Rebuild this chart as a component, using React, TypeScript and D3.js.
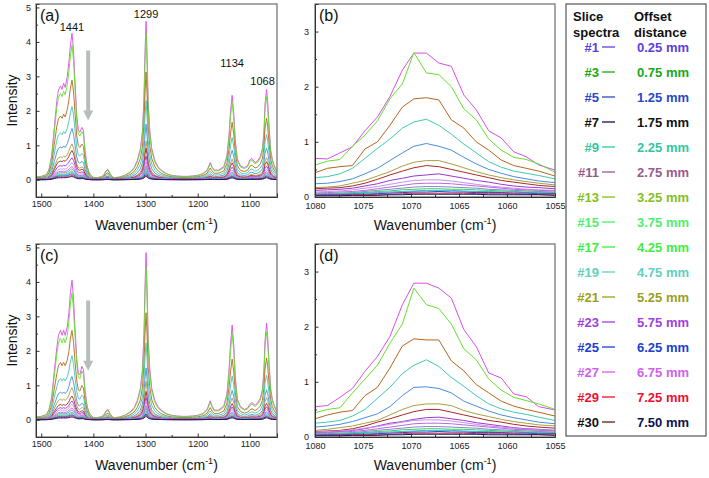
import React, { useRef, useEffect } from 'react';
import * as d3 from 'd3';

// top spectrum of panel (a), [wavenumber, intensity]
const topSpectrumA: [number, number][] = [
  [1510, 0.08], [1500, 0.1], [1490, 0.15], [1485, 0.3], [1480, 0.7], [1475, 1.5], [1470, 2.3],
  [1467, 2.6], [1463, 2.72], [1460, 2.62], [1457, 2.8], [1454, 2.68], [1450, 3.0], [1447, 3.4],
  [1444, 3.9], [1441, 4.25], [1438, 3.75], [1435, 2.8], [1432, 1.9], [1429, 1.45], [1426, 1.38],
  [1422, 1.52], [1419, 1.42], [1416, 0.85], [1412, 0.4], [1408, 0.2], [1404, 0.12], [1400, 0.07],
  [1395, 0.06], [1390, 0.07], [1385, 0.09], [1380, 0.14], [1376, 0.26], [1372, 0.3], [1368, 0.18],
  [1364, 0.09], [1360, 0.06], [1350, 0.08], [1340, 0.13], [1330, 0.22], [1322, 0.35], [1316, 0.55],
  [1310, 0.9], [1306, 1.4], [1303, 2.4], [1301, 3.7], [1299, 4.6], [1297, 3.6], [1295, 2.3],
  [1292, 1.45], [1288, 0.9], [1282, 0.55], [1276, 0.38], [1270, 0.28], [1260, 0.18], [1250, 0.13],
  [1240, 0.11], [1230, 0.1], [1220, 0.1], [1210, 0.11], [1200, 0.13], [1190, 0.18], [1182, 0.28],
  [1176, 0.5], [1172, 0.36], [1168, 0.28], [1160, 0.28], [1150, 0.38], [1144, 0.7], [1140, 1.3],
  [1137, 2.0], [1134, 2.45], [1131, 1.95], [1128, 1.15], [1124, 0.6], [1118, 0.4], [1110, 0.35],
  [1104, 0.42], [1100, 0.58], [1096, 0.62], [1090, 0.5], [1085, 0.55], [1080, 0.68], [1076, 0.9],
  [1073, 1.4], [1071, 2.2], [1068, 2.62], [1066, 2.3], [1063, 1.5], [1060, 0.85], [1057, 0.6],
  [1054, 0.45], [1050, 0.3], [1048, 0.25],
];

// top spectrum of panel (c)
const topSpectrumC: [number, number][] = [
  [1510, 0.08], [1500, 0.1], [1490, 0.15], [1485, 0.3], [1480, 0.65], [1475, 1.4], [1470, 2.1],
  [1467, 2.45], [1463, 2.6], [1460, 2.45], [1457, 2.6], [1454, 2.45], [1450, 2.7], [1447, 3.1],
  [1444, 3.7], [1441, 4.05], [1438, 3.5], [1435, 2.6], [1432, 1.8], [1429, 1.35], [1426, 1.3],
  [1422, 1.55], [1419, 1.45], [1416, 0.85], [1412, 0.4], [1408, 0.2], [1404, 0.12], [1400, 0.07],
  [1395, 0.06], [1390, 0.07], [1385, 0.09], [1380, 0.14], [1376, 0.25], [1372, 0.3], [1368, 0.18],
  [1364, 0.09], [1360, 0.06], [1350, 0.08], [1340, 0.13], [1330, 0.22], [1322, 0.35], [1316, 0.55],
  [1310, 0.9], [1306, 1.45], [1303, 2.5], [1301, 3.9], [1299, 4.85], [1297, 3.8], [1295, 2.4],
  [1292, 1.5], [1288, 0.9], [1282, 0.55], [1276, 0.38], [1270, 0.28], [1260, 0.18], [1250, 0.13],
  [1240, 0.11], [1230, 0.1], [1220, 0.1], [1210, 0.11], [1200, 0.13], [1190, 0.18], [1182, 0.3],
  [1176, 0.55], [1172, 0.38], [1168, 0.28], [1160, 0.28], [1150, 0.4], [1144, 0.75], [1140, 1.45],
  [1137, 2.2], [1134, 2.75], [1131, 2.2], [1128, 1.25], [1124, 0.6], [1118, 0.38], [1110, 0.3],
  [1104, 0.35], [1100, 0.45], [1096, 0.5], [1090, 0.42], [1085, 0.5], [1080, 0.62], [1076, 0.88],
  [1073, 1.45], [1071, 2.3], [1068, 2.8], [1066, 2.45], [1063, 1.6], [1060, 0.9], [1057, 0.6],
  [1054, 0.45], [1050, 0.3], [1048, 0.25],
];

// each spectrum's level relative to the top one (read at the 1441 / 1299 peaks)
const levelsA = [1, 0.92, 0.68, 0.5, 0.35, 0.245, 0.2, 0.15, 0.115, 0.09, 0.075, 0.06, 0.05, 0.04, 0.03, 0.022];
const levelsC = [1, 0.91, 0.64, 0.46, 0.31, 0.23, 0.17, 0.135, 0.11, 0.085, 0.07, 0.055, 0.045, 0.035, 0.028, 0.02];

const spectraColors = [
  '#d84ee8', '#66e030', '#b5661e', '#40c8b0', '#4a8ce0', '#a8a040', '#a82828', '#9838d0',
  '#c890e8', '#b868e0', '#8888cc', '#40d060', '#30b8d0', '#2840c0', '#e82850', '#101060',
];

// zoomed region 1080-1055 cm-1
const zoomWn = [1080, 1078.7, 1077.4, 1076.1, 1074.8, 1073.5, 1072.2, 1070.9, 1069.7, 1068.4,
  1067.1, 1065.8, 1064.5, 1063.2, 1061.9, 1060.6, 1059.3, 1058.0, 1056.7, 1055.0];

const zoomB = [
  [0.7, 0.69, 0.8, 0.91, 1.2, 1.45, 1.82, 2.3, 2.61, 2.61, 2.43, 2.37, 1.85, 1.58, 1.2, 1.07, 0.82, 0.73, 0.58, 0.49],
  [0.58, 0.65, 0.68, 0.92, 1.12, 1.38, 1.78, 2.05, 2.62, 2.25, 2.22, 2.0, 1.6, 1.4, 1.05, 0.85, 0.72, 0.68, 0.6, 0.45],
  [0.44, 0.52, 0.55, 0.57, 0.87, 1.0, 1.3, 1.63, 1.78, 1.8, 1.76, 1.4, 1.25, 1.0, 0.85, 0.67, 0.57, 0.52, 0.47, 0.38],
  [0.35, 0.37, 0.42, 0.52, 0.7, 0.88, 1.05, 1.25, 1.36, 1.41, 1.3, 1.14, 0.96, 0.8, 0.64, 0.54, 0.47, 0.43, 0.39, 0.33],
  [0.24, 0.25, 0.28, 0.33, 0.42, 0.52, 0.66, 0.8, 0.92, 0.97, 0.92, 0.85, 0.72, 0.6, 0.5, 0.43, 0.37, 0.33, 0.29, 0.26],
  [0.17, 0.18, 0.2, 0.25, 0.3, 0.38, 0.46, 0.56, 0.63, 0.66, 0.66, 0.6, 0.53, 0.46, 0.4, 0.35, 0.31, 0.28, 0.25, 0.22],
  [0.15, 0.16, 0.17, 0.2, 0.25, 0.32, 0.4, 0.47, 0.53, 0.57, 0.55, 0.5, 0.45, 0.4, 0.35, 0.3, 0.27, 0.24, 0.21, 0.19],
  [0.12, 0.13, 0.14, 0.16, 0.2, 0.24, 0.3, 0.34, 0.38, 0.4, 0.42, 0.38, 0.34, 0.3, 0.27, 0.23, 0.2, 0.18, 0.17, 0.15],
];

const zoomD = [
  [0.55, 0.57, 0.72, 0.88, 1.19, 1.46, 1.82, 2.4, 2.79, 2.79, 2.7, 2.52, 1.95, 1.64, 1.16, 1.07, 0.78, 0.73, 0.55, 0.49],
  [0.44, 0.5, 0.53, 0.8, 1.05, 1.3, 1.7, 2.05, 2.7, 2.4, 2.33, 2.05, 1.6, 1.4, 1.05, 0.85, 0.72, 0.66, 0.6, 0.5],
  [0.33, 0.4, 0.45, 0.48, 0.75, 0.9, 1.25, 1.65, 1.78, 1.76, 1.76, 1.38, 1.2, 0.95, 0.8, 0.65, 0.56, 0.5, 0.45, 0.38],
  [0.25, 0.27, 0.3, 0.38, 0.5, 0.7, 0.9, 1.15, 1.3, 1.4, 1.28, 1.08, 0.92, 0.75, 0.6, 0.51, 0.45, 0.41, 0.36, 0.3],
  [0.18, 0.2, 0.23, 0.28, 0.35, 0.42, 0.55, 0.75, 0.9, 0.91, 0.88, 0.8, 0.65, 0.56, 0.47, 0.4, 0.35, 0.31, 0.27, 0.24],
  [0.12, 0.14, 0.17, 0.2, 0.25, 0.3, 0.4, 0.5, 0.57, 0.6, 0.6, 0.57, 0.48, 0.42, 0.37, 0.32, 0.28, 0.25, 0.22, 0.2],
  [0.1, 0.11, 0.12, 0.15, 0.2, 0.27, 0.33, 0.4, 0.46, 0.5, 0.5, 0.45, 0.4, 0.35, 0.3, 0.27, 0.23, 0.2, 0.18, 0.16],
  [0.08, 0.09, 0.1, 0.12, 0.15, 0.2, 0.25, 0.28, 0.32, 0.35, 0.36, 0.33, 0.3, 0.26, 0.23, 0.2, 0.17, 0.15, 0.14, 0.12],
];

// weak spectra near the baseline (both zoomed panels)
const zoomLow = [
  [0.09, 0.1, 0.11, 0.13, 0.16, 0.19, 0.23, 0.27, 0.3, 0.31, 0.31, 0.29, 0.26, 0.23, 0.2, 0.18, 0.16, 0.14, 0.13, 0.12],
  [0.07, 0.08, 0.09, 0.1, 0.12, 0.15, 0.18, 0.21, 0.24, 0.25, 0.25, 0.24, 0.22, 0.2, 0.18, 0.16, 0.14, 0.13, 0.12, 0.11],
  [0.06, 0.06, 0.07, 0.08, 0.1, 0.12, 0.14, 0.16, 0.18, 0.19, 0.19, 0.18, 0.17, 0.16, 0.14, 0.13, 0.12, 0.11, 0.1, 0.09],
  [0.05, 0.05, 0.06, 0.07, 0.08, 0.1, 0.11, 0.13, 0.14, 0.15, 0.15, 0.14, 0.14, 0.13, 0.12, 0.11, 0.1, 0.09, 0.09, 0.08],
  [0.04, 0.05, 0.05, 0.06, 0.07, 0.08, 0.09, 0.1, 0.11, 0.12, 0.12, 0.12, 0.11, 0.1, 0.1, 0.09, 0.09, 0.08, 0.08, 0.07],
  [0.03, 0.04, 0.04, 0.05, 0.05, 0.06, 0.07, 0.08, 0.09, 0.09, 0.1, 0.09, 0.09, 0.08, 0.08, 0.08, 0.07, 0.07, 0.06, 0.06],
  [0.03, 0.03, 0.03, 0.04, 0.04, 0.05, 0.05, 0.06, 0.07, 0.07, 0.07, 0.07, 0.07, 0.06, 0.06, 0.06, 0.06, 0.05, 0.05, 0.05],
  [0.02, 0.02, 0.02, 0.03, 0.03, 0.03, 0.04, 0.04, 0.05, 0.05, 0.05, 0.05, 0.05, 0.05, 0.04, 0.04, 0.04, 0.04, 0.04, 0.03],
];

const peakLabels = [
  { wn: 1441, v: 4.33 },
  { wn: 1299, v: 4.68 },
  { wn: 1134, v: 3.28 },
  { wn: 1068, v: 2.76 },
];

const legendSlices = ['#1', '#3', '#5', '#7', '#9', '#11', '#13', '#15', '#17', '#19', '#21', '#23', '#25', '#27', '#29', '#30'];
const legendOffsets = ['0.25 mm', '0.75 mm', '1.25 mm', '1.75 mm', '2.25 mm', '2.75 mm', '3.25 mm', '3.75 mm',
  '4.25 mm', '4.75 mm', '5.25 mm', '5.75 mm', '6.25 mm', '6.75 mm', '7.25 mm', '7.50 mm'];
const legendColors = ['#5a40dc', '#18a818', '#2848c8', '#111111', '#30c8a0', '#9a5a90', '#84c020', '#50ee70',
  '#40ee40', '#60d0c0', '#98a020', '#a040e0', '#2040d0', '#d060f0', '#ee1030', '#111111'];
const legendDashColors = ['#5a40dc', '#18a818', '#2848c8', '#141450', '#30c8a0', '#9a5a90', '#84c020', '#50ee70',
  '#40ee40', '#60d0c0', '#98a020', '#a040e0', '#2040d0', '#d060f0', '#ee1030', '#5a2010'];
const legendValueColors = ['#5a40dc', '#18a818', '#2848c8', '#111111', '#30c8a0', '#9a5a90', '#84c020', '#50ee70',
  '#40ee40', '#60d0c0', '#98a020', '#a040e0', '#2040d0', '#d060f0', '#ee1030', '#101050'];

const FONT = 'Arial, "Liberation Sans", sans-serif';

type Series = { values: [number, number][]; color: string };

const drawPanel = (svg: any, p: any) => {
  const x = d3.scaleLinear().domain(p.xDomain).range([p.left, p.right]);
  const y = d3.scaleLinear().domain(p.yDomain).range([p.bottom, p.top]);
  const g = svg.append('g');

  svg.append('clipPath').attr('id', 'clip-' + p.name)
    .append('rect')
    .attr('x', p.left).attr('y', p.top)
    .attr('width', p.right - p.left).attr('height', p.bottom - p.top);

  const line = d3.line<[number, number]>().x((d) => x(d[0])).y((d) => y(d[1]));

  g.append('g')
    .attr('clip-path', `url(#clip-${p.name})`)
    .selectAll('path')
    .data(p.series as Series[])
    .join('path')
    .attr('d', (d: Series) => line(d.values))
    .attr('fill', 'none')
    .attr('stroke', (d: Series) => d.color)
    .attr('stroke-width', p.lw)
    .attr('stroke-linejoin', 'round');

  // frame
  g.append('rect')
    .attr('x', p.left).attr('y', p.top)
    .attr('width', p.right - p.left).attr('height', p.bottom - p.top)
    .attr('fill', 'none').attr('stroke', '#777').attr('stroke-width', 1.3);

  // x axis, ticks pointing in
  const xa = g.append('g')
    .attr('transform', `translate(0,${p.bottom})`)
    .call(d3.axisBottom(x).tickValues(p.xTicks).tickSize(-3.5).tickPadding(p.xPad).tickFormat(d3.format('d')));
  xa.select('.domain').attr('stroke', '#333');
  xa.selectAll('line').attr('stroke', '#333');
  xa.selectAll('text').attr('font-size', 9).attr('font-family', FONT).attr('fill', '#222');
  g.append('g')
    .attr('transform', `translate(0,${p.bottom})`)
    .call(d3.axisBottom(x).tickValues(p.xMinor).tickSize(-2).tickFormat(() => ''))
    .call((s: any) => s.select('.domain').remove())
    .selectAll('line').attr('stroke', '#333');

  // y axis
  const ya = g.append('g')
    .attr('transform', `translate(${p.left},0)`)
    .call(d3.axisLeft(y).tickValues(p.yTicks).tickSize(-3.5).tickPadding(p.yPad).tickFormat(d3.format('d')));
  ya.select('.domain').attr('stroke', '#333');
  ya.selectAll('line').attr('stroke', '#333');
  ya.selectAll('text').attr('font-size', 9).attr('font-family', FONT).attr('fill', '#222');
  g.append('g')
    .attr('transform', `translate(${p.left},0)`)
    .call(d3.axisLeft(y).tickValues(p.yMinor).tickSize(-2).tickFormat(() => ''))
    .call((s: any) => s.select('.domain').remove())
    .selectAll('line').attr('stroke', '#333');

  // axis titles
  const title = g.append('text')
    .attr('x', (p.left + p.right) / 2)
    .attr('y', p.bottom + 33)
    .attr('text-anchor', 'middle')
    .attr('font-size', 14)
    .attr('font-family', FONT)
    .attr('fill', '#111');
  title.append('tspan').text('Wavenumber (cm');
  title.append('tspan').attr('font-size', 9).attr('dy', -6).text('-1');
  title.append('tspan').attr('dy', 6).text(')');

  if (p.yTitle) {
    g.append('text')
      .attr('transform', `translate(${p.left - 19},${(p.top + p.bottom) / 2}) rotate(-90)`)
      .attr('text-anchor', 'middle')
      .attr('font-size', 14)
      .attr('font-family', FONT)
      .attr('fill', '#111')
      .text('Intensity');
  }

  // panel letter
  g.append('text')
    .attr('x', p.left + 4)
    .attr('y', p.top + 17)
    .attr('font-size', 16)
    .attr('font-family', FONT)
    .attr('fill', '#111')
    .text(p.label);

  return { x, y, g };
};

const App = () => {
  const ref = useRef<SVGSVGElement>(null);

  useEffect(() => {
    if (!ref.current) return;
    const svg = d3.select(ref.current);
    svg.selectAll('*').remove();

    svg.append('rect').attr('width', 709).attr('height', 478).attr('fill', '#fff');

    const wideSeries = (top: [number, number][], levels: number[]) =>
      levels.map((k, i) => ({
        color: spectraColors[i],
        values: top.map(([w, v]) => [w, v * k] as [number, number]),
      }));

    const zoomSeries = (rows: number[][]) =>
      rows.map((r, i) => ({
        color: spectraColors[i],
        values: r.map((v, j) => [zoomWn[j], v] as [number, number]),
      }));

    const wideTicks = [1500, 1400, 1300, 1200, 1100];
    const wideMinor = [1450, 1350, 1250, 1150];
    const zoomTicks = [1080, 1075, 1070, 1065, 1060, 1055];
    const zoomMinor = [1077.5, 1072.5, 1067.5, 1062.5, 1057.5];

    [
      { name: 'a', top: 4, label: '(a)', spec: topSpectrumA, levels: levelsA },
      { name: 'c', top: 244, label: '(c)', spec: topSpectrumC, levels: levelsC },
    ].forEach((pn) => {
      const { x, y, g } = drawPanel(svg, {
        name: pn.name,
        left: 36, right: 277, top: pn.top, bottom: pn.top + 193,
        xDomain: [1510, 1048], yDomain: [-0.5, 5.1],
        xTicks: wideTicks, xMinor: wideMinor,
        yTicks: [0, 1, 2, 3, 4, 5], yMinor: [0.5, 1.5, 2.5, 3.5, 4.5],
        xPad: 4, yPad: 5, lw: 0.9, yTitle: true, label: pn.label,
        series: wideSeries(pn.spec, pn.levels),
      });

      // grey arrow: intensity drops with slice depth
      const ay0 = pn.name === 'a' ? 3.75 : 3.46;
      const ay1 = pn.name === 'a' ? 1.72 : 1.42;
      const ax = x(1410);
      g.append('line')
        .attr('x1', ax).attr('x2', ax)
        .attr('y1', y(ay0)).attr('y2', y(ay1) - 9)
        .attr('stroke', '#b8bcbc').attr('stroke-width', 4);
      g.append('path')
        .attr('d', `M${ax - 5},${y(ay1) - 10}L${ax + 5},${y(ay1) - 10}L${ax},${y(ay1)}Z`)
        .attr('fill', '#b8bcbc');

      if (pn.name === 'a') {
        g.selectAll('.peak')
          .data(peakLabels)
          .join('text')
          .attr('x', (d: any) => x(d.wn) - (d.wn === 1068 ? 4 : 0))
          .attr('y', (d: any) => y(d.v))
          .attr('text-anchor', 'middle')
          .attr('font-size', 11)
          .attr('font-family', FONT)
          .attr('fill', '#111')
          .text((d: any) => d.wn);
      }
    });

    [
      { name: 'b', top: 4, label: '(b)', rows: zoomB },
      { name: 'd', top: 244, label: '(d)', rows: zoomD },
    ].forEach((pn) => {
      drawPanel(svg, {
        name: pn.name,
        left: 315, right: 555, top: pn.top, bottom: pn.top + 193,
        xDomain: [1080, 1055], yDomain: [0, 3.5],
        xTicks: zoomTicks, xMinor: zoomMinor,
        yTicks: [0, 1, 2, 3], yMinor: [0.5, 1.5, 2.5],
        xPad: 5.5, yPad: 6, lw: 1, yTitle: false, label: pn.label,
        series: zoomSeries([...pn.rows, ...zoomLow]),
      });
    });

    // legend box
    const lg = svg.append('g');
    lg.append('rect')
      .attr('x', 566).attr('y', 4).attr('width', 140).attr('height', 432)
      .attr('fill', '#fff').attr('stroke', '#555').attr('stroke-width', 1.2);

    const head = lg.append('g')
      .attr('font-family', FONT).attr('font-size', 13).attr('font-weight', 'bold').attr('fill', '#111');
    head.append('text').attr('x', 573).attr('y', 21).text('Slice');
    head.append('text').attr('x', 573).attr('y', 37).text('spectra');
    head.append('text').attr('x', 634).attr('y', 21).text('Offset');
    head.append('text').attr('x', 634).attr('y', 37).text('distance');

    const rowY = d3.scalePoint<string>().domain(legendSlices).range([51.5, 426.5]);
    const rows = lg.selectAll('.row')
      .data(legendSlices)
      .join('g')
      .attr('transform', (d) => `translate(0,${rowY(d)})`)
      .attr('font-family', FONT)
      .attr('font-size', 13)
      .attr('font-weight', 'bold');
    rows.append('text')
      .attr('x', 599).attr('text-anchor', 'end')
      .attr('fill', (_d, i) => legendColors[i])
      .text((d) => d);
    rows.append('line')
      .attr('x1', 602).attr('x2', 615).attr('y1', -4.5).attr('y2', -4.5)
      .attr('stroke', (_d, i) => legendDashColors[i]).attr('stroke-width', 1.3);
    rows.append('text')
      .attr('x', 637)
      .attr('fill', (_d, i) => legendValueColors[i])
      .text((_d, i) => legendOffsets[i]);
  }, []);

  return (
    <svg
      ref={ref}
      width={709}
      height={478}
      style={{ position: 'absolute', left: 0, top: 0, display: 'block' }}
    />
  );
};

export default App;
